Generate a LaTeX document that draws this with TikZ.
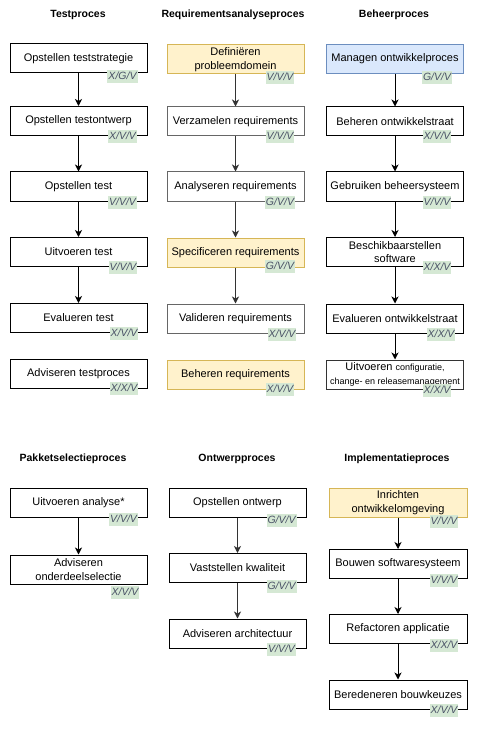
\documentclass[tikz,border=0pt]{standalone}
\usepackage{fontspec}
\setmainfont{Liberation Sans}
\usetikzlibrary{arrows.meta}
\definecolor{yelfill}{HTML}{FFF2CC}
\definecolor{yeldraw}{HTML}{D6B656}
\definecolor{bluefill}{HTML}{DAE8FC}
\definecolor{bluedraw}{HTML}{6C8EBF}
\definecolor{badgefill}{HTML}{D5E8D4}
\definecolor{badgetext}{HTML}{4A5266}
\definecolor{midgray}{HTML}{666666}
\definecolor{darkline}{HTML}{333333}

\begin{document}
\begin{tikzpicture}[x=1pt,y=-1pt,
  proc/.style={draw=black, line width=1pt, fill=white, minimum width=137pt,
    minimum height=29pt, inner sep=1pt, align=center,
    font=\fontsize{11}{13.5}\selectfont},
  yelbox/.style={proc, draw=yeldraw, fill=yelfill},
  bluebox/.style={proc, draw=bluedraw, fill=bluefill},
  graybox/.style={proc, draw=midgray},
  badge/.style={fill=badgefill, text=badgetext, inner xsep=1pt, inner ysep=1pt,
    text height=8.5pt, text depth=2.5pt, font=\fontsize{10.5}{12}\selectfont\itshape},
  ttl/.style={font=\fontsize{10.5}{13}\selectfont\bfseries},
  flow/.style={draw=black, line width=1pt,
    -{Stealth[length=7pt,width=7pt,inset=2pt]}},
  grayflow/.style={flow, draw=darkline}
]
\useasboundingbox (0,0) rectangle (478,730);

% ---------- Testproces ----------
\node[ttl] (ttest) at (78,15) {Testproces};
\node[proc] (t1) at (78.5,58.5) {Opstellen teststrategie};
\node[proc] (t2) at (78.5,121) {Opstellen testontwerp};
\node[proc] (t3) at (78.5,186.5) {Opstellen test};
\node[proc] (t4) at (78.5,252) {Uitvoeren test};
\node[proc] (t5) at (78.5,318) {Evalueren test};
\node[proc] (t6) at (78.5,374) {Adviseren testproces};
\draw[flow] (t1) -- (t2);
\draw[flow] (t2) -- (t3);
\draw[flow] (t3) -- (t4);
\draw[flow] (t4) -- (t5);
\node[badge] (t1b) at (122.5,77) {X/G/V};
\node[badge] (t2b) at (122.5,137) {X/V/V};
\node[badge] (t3b) at (122.5,202) {V/V/V};
\node[badge] (t4b) at (123,267) {V/V/V};
\node[badge] (t5b) at (124,333) {X/V/V};
\node[badge] (t6b) at (124,388) {X/X/V};

% ---------- Requirementsanalyseproces ----------
\node[ttl] (treq) at (233,15) {Requirementsanalyseproces};
\node[yelbox] (r1) at (235.5,59.5) {Definiëren\\probleemdomein};
\node[graybox] (r2) at (235.5,121.5) {Verzamelen requirements};
\node[graybox] (r3) at (235.5,186.5) {Analyseren requirements};
\node[yelbox] (r4) at (235.5,252.5) {Specificeren requirements};
\node[graybox] (r5) at (235.5,318.5) {Valideren requirements};
\node[yelbox] (r6) at (235.5,374.5) {Beheren requirements};
\draw[grayflow] (r1) -- (r2);
\draw[grayflow] (r2) -- (r3);
\draw[grayflow] (r3) -- (r4);
\draw[grayflow] (r4) -- (r5);
\node[badge] (r1b) at (280,78) {V/V/V};
\node[badge] (r2b) at (280,137) {V/V/V};
\node[badge] (r3b) at (280,202) {G/V/V};
\node[badge] (r4b) at (280,266) {G/V/V};
\node[badge] (r5b) at (282,334) {X/V/V};
\node[badge] (r6b) at (280,389) {X/V/V};

% ---------- Beheerproces ----------
\node[ttl] (tbeh) at (394,15) {Beheerproces};
\node[bluebox] (b1) at (395,59) {Managen ontwikkelproces};
\node[proc] (b2) at (395,121.5) {Beheren ontwikkelstraat};
\node[proc] (b3) at (395,186.5) {Gebruiken beheersysteem};
\node[proc] (b4) at (395,252) {Beschikbaarstellen\\software};
\node[proc] (b5) at (395,318.5) {Evalueren ontwikkelstraat};
\node[proc, draw=darkline, inner sep=0pt] (b6) at (395,374.5)
  {Uitvoeren {\fontsize{9}{10}\selectfont configuratie,}\\[1pt]
   {\fontsize{9}{10}\selectfont change- en releasemanagement}};
\draw[flow] (b1) -- (b2);
\draw[flow] (b2) -- (b3);
\draw[flow] (b3) -- (b4);
\draw[flow] (b4) -- (b5);
\draw[flow] (b5) -- (b6);
\node[badge] (b1b) at (437,78) {G/V/V};
\node[badge] (b2b) at (437,137) {X/V/V};
\node[badge] (b3b) at (437,202) {V/V/V};
\node[badge] (b4b) at (437,267) {X/X/V};
\node[badge] (b5b) at (441,334) {X/X/V};
\node[badge] (b6b) at (437,390) {X/X/V};

% ---------- Pakketselectieproces ----------
\node[ttl] (tpak) at (73,459) {Pakketselectieproces};
\node[proc] (p1) at (78.5,502.5) {Uitvoeren analyse*};
\node[proc] (p2) at (78.5,569.5) {Adviseren\\onderdeelselectie};
\draw[flow] (p1) -- (p2);
\node[badge] (p1b) at (123.5,519) {V/V/V};
\node[badge] (p2b) at (125,592) {X/V/V};

% ---------- Ontwerpproces ----------
\node[ttl] (tont) at (237,459) {Ontwerpproces};
\node[proc] (o1) at (237.5,502.5) {Opstellen ontwerp};
\node[proc] (o2) at (237.5,568) {Vaststellen kwaliteit};
\node[proc] (o3) at (237.5,633.5) {Adviseren architectuur};
\draw[grayflow] (o1) -- (o2);
\draw[grayflow] (o2) -- (o3);
\node[badge] (o1b) at (281.5,520) {G/V/V};
\node[badge] (o2b) at (281.5,586) {G/V/V};
\node[badge] (o3b) at (281.5,649) {V/V/V};

% ---------- Implementatieproces ----------
\node[ttl] (timp) at (397,459) {Implementatieproces};
\node[yelbox, minimum width=138pt] (i1) at (398,502.5) {Inrichten\\ontwikkelomgeving};
\node[proc, minimum width=138pt] (i2) at (398,564) {Bouwen softwaresysteem};
\node[proc, minimum width=138pt] (i3) at (398,629) {Refactoren applicatie};
\node[proc, minimum width=138pt] (i4) at (398,694.5) {Beredeneren bouwkeuzes};
\draw[flow] (i1) -- (i2);
\draw[flow] (i2) -- (i3);
\draw[flow] (i3) -- (i4);
\node[badge] (i1b) at (444,521) {V/V/V};
\node[badge] (i2b) at (444,580) {V/V/V};
\node[badge] (i3b) at (444,645) {X/X/V};
\node[badge] (i4b) at (444,710) {X/V/V};
\end{tikzpicture}
\end{document}
